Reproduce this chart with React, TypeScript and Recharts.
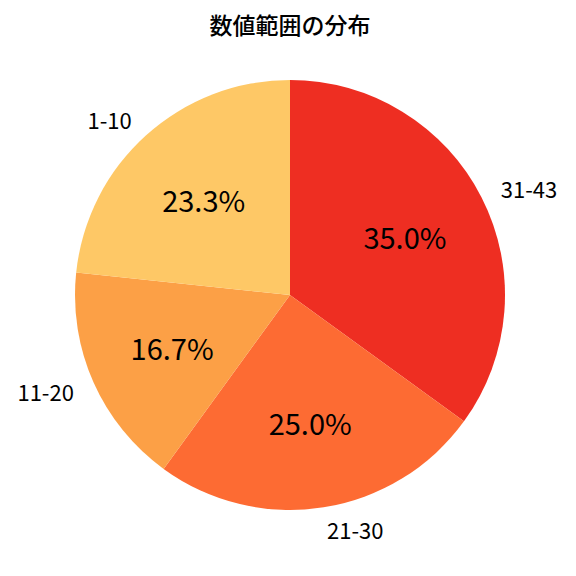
import React from 'react';
import { PieChart, Pie, Cell } from 'recharts';

const categories = ['31-43', '21-30', '11-20', '1-10'];
const counts = [21, 15, 10, 14];
const colors = ['#EE2E22', '#FD6B33', '#FCA046', '#FEC866'];
const title = '数値範囲の分布';

const data = categories.map((name, i) => ({ name, value: counts[i] }));

const RADIAN = Math.PI / 180;
const FONT = '"Noto Sans CJK JP", "Noto Sans", sans-serif';

const renderLabel = (props: any) => {
  const { cx, cy, midAngle, outerRadius, percent, name } = props;
  const cos = Math.cos(-midAngle * RADIAN);
  const sin = Math.sin(-midAngle * RADIAN);
  const ox = cx + outerRadius * 1.1 * cos;
  const oy = cy + outerRadius * 1.1 * sin;
  const px = cx + outerRadius * 0.6 * cos;
  const py = cy + outerRadius * 0.6 * sin;
  return (
    <g>
      <text x={ox} y={oy} fill="#000" fontSize={22} fontFamily={FONT}
        textAnchor={cos >= 0 ? 'start' : 'end'} dominantBaseline="central">{name}</text>
      <text x={px} y={py} fill="#000" fontSize={29} fontFamily={FONT}
        textAnchor="middle" dominantBaseline="central">{(percent * 100).toFixed(1)}%</text>
    </g>
  );
};

export default function App() {
  return (
    <div style={{ position: 'absolute', left: 0, top: 0, width: 576, height: 576, background: '#fff' }}>
      <PieChart width={576} height={576} margin={{ top: 0, right: 0, bottom: 0, left: 0 }}>
        <text x={290} y={24} textAnchor="middle" dominantBaseline="central"
          fontSize={23} fontWeight={500} fontFamily={FONT} fill="#000">{title}</text>
        <Pie data={data} dataKey="value" nameKey="name" cx={290} cy={295}
          outerRadius={215} startAngle={90} endAngle={-270}
          stroke="none" label={renderLabel} labelLine={false} isAnimationActive={false}>
          {data.map((d, i) => <Cell key={d.name} fill={colors[i]} />)}
        </Pie>
      </PieChart>
    </div>
  );
}
